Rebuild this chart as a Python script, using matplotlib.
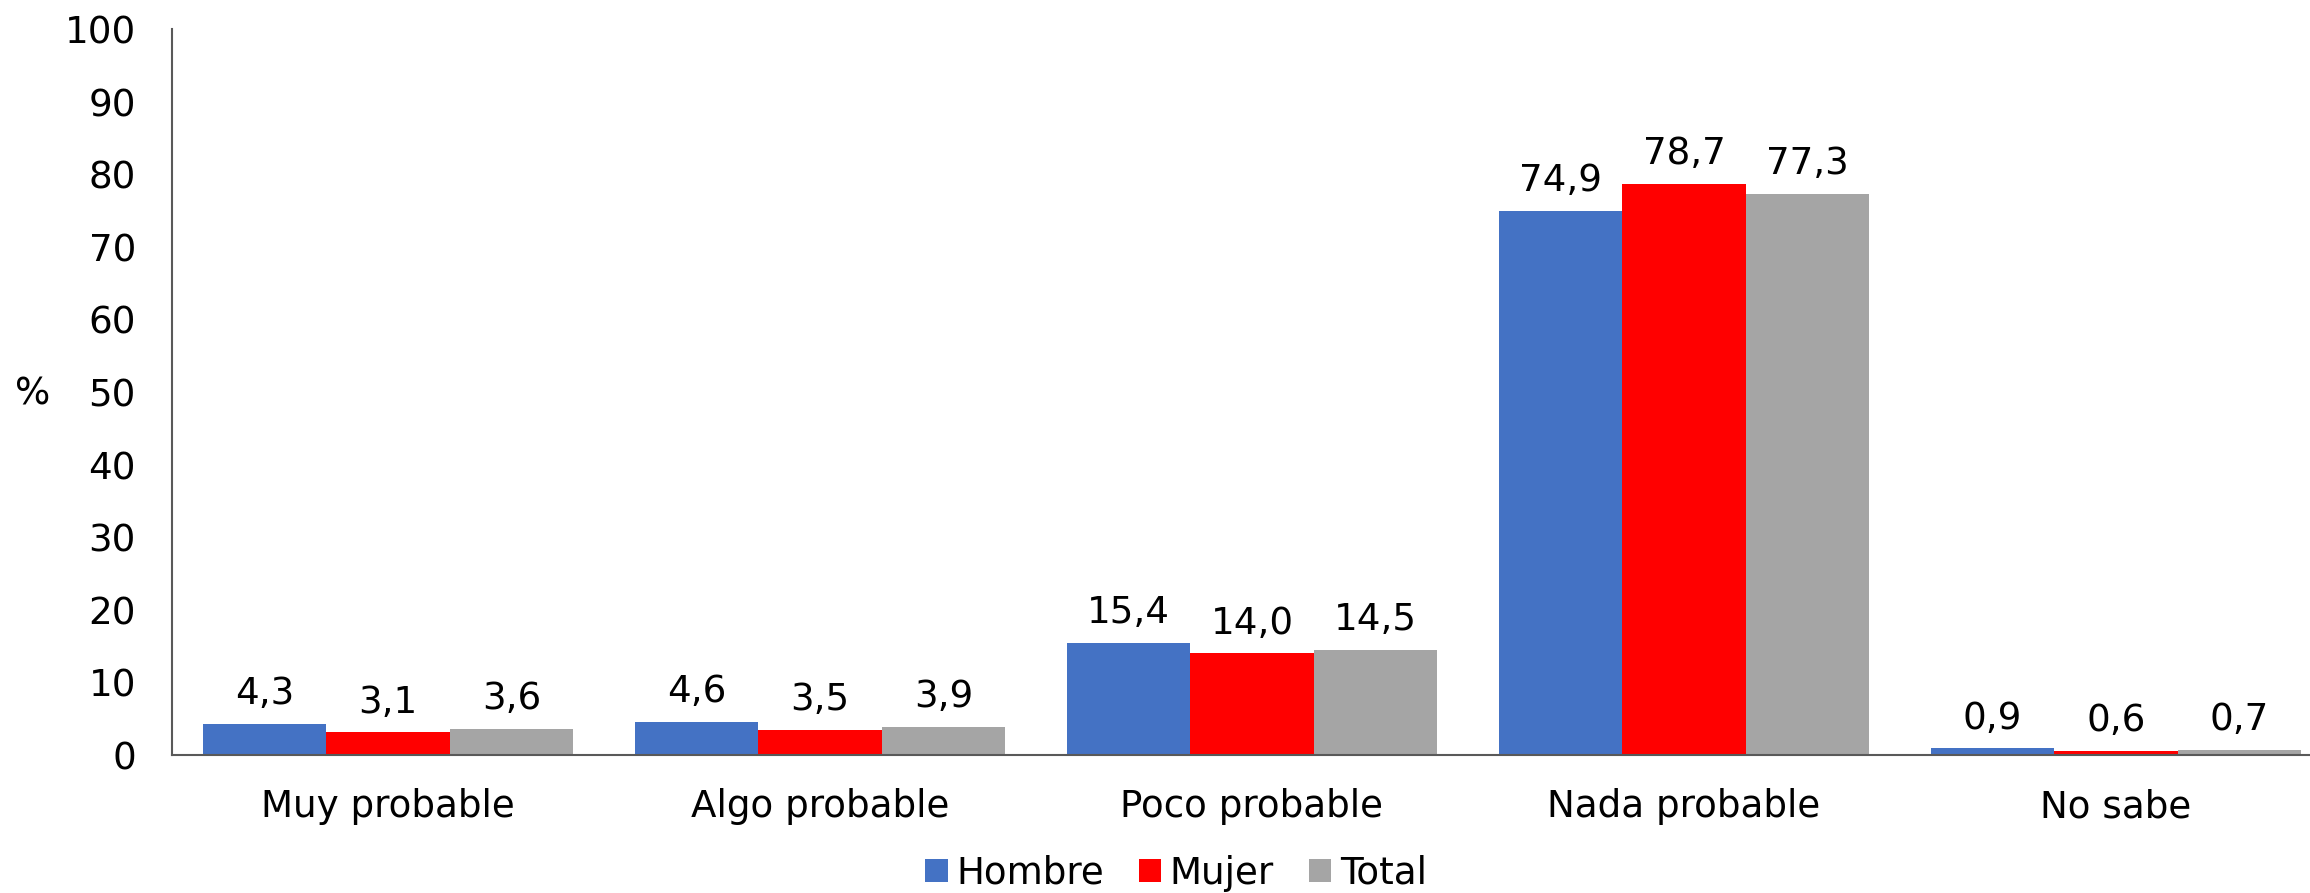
import matplotlib
matplotlib.use("Agg")
import matplotlib.pyplot as plt
import numpy as np

categories = ["Muy probable", "Algo probable", "Poco probable", "Nada probable", "No sabe"]
series_names = ["Hombre", "Mujer", "Total"]
hombre = [4.3, 4.6, 15.4, 74.9, 0.9]
mujer = [3.1, 3.5, 14.0, 78.7, 0.6]
total = [3.6, 3.9, 14.5, 77.3, 0.7]
yticks = [0, 10, 20, 30, 40, 50, 60, 70, 80, 90, 100]

colors = ["#4472C4", "#FF0000", "#A5A5A5"]
FS = 26.8

plt.rcParams['font.family'] = ['DejaVu Sans']

W, H = 2310, 893
fig = plt.figure(figsize=(W / 100, H / 100), dpi=100)
left = 172 / W
right = 2332 / W
bottom = (H - 755) / H
top = (H - 29) / H
ax = fig.add_axes([left, bottom, right - left, top - bottom])

x = np.arange(len(categories))
bw = 1 / 3.5
handles = []
for i, (name, vals) in enumerate(zip(series_names, [hombre, mujer, total])):
    b = ax.bar(x + (i - 1) * bw, vals, width=bw, color=colors[i], label=name, zorder=2)
    handles.append(b)
    for xi, v in zip(x, vals):
        ax.annotate(f"{v:.1f}".replace('.', ','), (xi + (i - 1) * bw, v),
                    xytext=(0, 8.5), textcoords='offset points',
                    ha='center', va='bottom', fontsize=FS, color='black')

ax.set_xlim(-0.5, len(categories) - 0.5)
ax.set_ylim(0, 100)
ax.set_yticks(yticks)
ax.set_yticklabels([str(t) for t in yticks], fontsize=FS)
ax.set_xticks(x)
ax.set_xticklabels(categories, fontsize=FS)
ax.tick_params(axis='y', length=0, pad=26)
ax.tick_params(axis='x', length=0, pad=24)
for s in ['top', 'right']:
    ax.spines[s].set_visible(False)
for s in ['left', 'bottom']:
    ax.spines[s].set_color('#595959')
    ax.spines[s].set_linewidth(1.5)

fig.text(33 / W, 1 - 394 / H, "%", fontsize=FS, ha='center', va='center')

fig.legend(handles=handles, labels=series_names, loc='center',
           bbox_to_anchor=(1176 / W, 1 - 873 / H), ncol=3, frameon=False,
           fontsize=FS, handlelength=0.6, handleheight=0.6,
           handletextpad=0.22, columnspacing=0.95, borderpad=0)

fig.savefig("out.png", dpi=100)
